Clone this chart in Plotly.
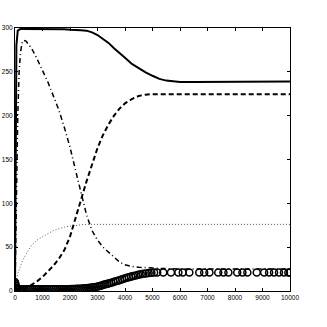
import plotly.graph_objects as go

# Line series time grid
t_lines = [0, 20, 50, 100, 150, 200, 250, 300, 400, 600, 800, 1000, 1200, 1400, 1600, 1800,
           2000, 2200, 2400, 2600, 2800, 3000, 3200, 3400, 3600, 3800, 4000, 4250, 4500,
           4750, 5000, 5250, 5500, 6000, 6500, 7000, 8000, 9000, 10000]

solid = [0, 150, 280, 297, 298.5, 299, 299, 299, 299, 299, 299, 299, 299, 298.5, 298.5, 298.5,
         298, 298, 297.5, 297, 295, 292, 288, 283, 277, 271, 266, 259, 254,
         249.5, 245.5, 242, 240, 238.5, 238.5, 238.5, 239, 239, 239]

dashed = [3, 2.5, 2, 2, 2, 2, 2.5, 3, 4, 7, 11, 16, 22, 29, 37, 47,
          62, 82, 104, 125, 145, 163, 178, 190, 200, 208, 214, 219, 222.5,
          224, 224.5, 224.5, 224.5, 224.5, 224.5, 224.5, 224.5, 224.5, 224.5]

dashdot = [0, 40, 110, 200, 250, 272, 282, 286, 285, 277, 265, 252, 238, 222, 206, 186,
           164, 138, 111, 87, 69, 58, 50, 44, 38, 33, 30, 28, 27,
           26.5, 26, 25.5, 25.5, 25, 25, 25, 25, 25, 25]

dotted = [0, 6, 12, 20, 25, 29, 33, 36, 42, 52, 58, 62, 66, 69, 71, 73,
          74, 75, 75.5, 76, 76, 76, 76, 76, 76, 76, 76, 76, 76,
          76, 76, 76, 76, 76, 76, 76, 76, 76, 76]

# Marker series (solver output points)
t_circ = [0, 10, 25, 50, 80, 120, 170, 230, 290, 350, 420, 490, 560, 630, 700, 770, 840,
          910, 980, 1050, 1120, 1190, 1260, 1330, 1400, 1470, 1540, 1610, 1680, 1750, 1820,
          1890, 1960, 2030, 2100, 2170, 2240, 2310, 2380, 2450, 2520, 2590, 2660, 2730,
          2800, 2870, 2940, 3010, 3080, 3150, 3220, 3290, 3360, 3430, 3500, 3580, 3660,
          3740, 3820, 3900, 3980, 4060, 4140, 4220, 4300, 4390, 4480, 4570, 4660, 4760,
          4860, 4960, 5060, 5170, 5390, 5670, 5940, 6100, 6340, 6700, 6880, 7070, 7390,
          7580, 7760, 8080, 8270, 8450, 8790, 9060, 9240, 9420, 9600, 9780, 9940, 10000]

circ = [10, 8, 6, 4, 3, 2.5, 2, 2, 2, 2, 2, 2, 2, 2, 2, 2, 2,
        2, 2, 2, 2, 2, 2, 2, 2, 2, 2, 2, 2, 2, 2,
        2, 2, 2.2, 2.3, 2.4, 2.5, 2.6, 2.7, 2.8, 3, 3.2, 3.4, 3.6,
        3.9, 4.3, 4.7, 5.2, 5.8, 6.4, 7, 7.6, 8.2, 8.8, 9.4, 10.2, 11,
        11.8, 12.6, 13.4, 14.2, 15, 15.7, 16.4, 17.1, 17.8, 18.5, 19.1, 19.6, 20.1,
        20.5, 20.8, 21, 21, 21, 21, 21, 21, 21, 21, 21, 21, 21,
        21, 21, 21, 21, 21, 21, 21, 21, 21, 21, 21, 21, 21]

x_ticks = [0, 1000, 2000, 3000, 4000, 5000, 6000, 7000, 8000, 9000, 10000]
y_ticks = [0, 50, 100, 150, 200, 250, 300]

fig = go.Figure()
fig.add_trace(go.Scatter(x=t_lines, y=dotted, mode="lines",
                         line=dict(color="#555555", width=1, dash="1px,2px")))
fig.add_trace(go.Scatter(x=t_lines, y=dashdot, mode="lines",
                         line=dict(color="black", width=1.5, dash="5px,3px,1px,3px")))
fig.add_trace(go.Scatter(x=t_lines, y=dashed, mode="lines",
                         line=dict(color="black", width=2, dash="5px,3px")))
fig.add_trace(go.Scatter(x=t_lines, y=solid, mode="lines",
                         line=dict(color="black", width=2)))
fig.add_trace(go.Scatter(x=t_circ, y=circ, mode="markers",
                         marker=dict(symbol="circle-open", size=7, color="black",
                                     line=dict(width=1.5, color="black"))))

axis_common = dict(showgrid=False, zeroline=False, showline=True, linecolor="black",
                   linewidth=1, mirror="ticks", ticks="inside", ticklen=3,
                   tickcolor="black", automargin=False,
                   tickfont=dict(family="Liberation Sans", size=6.5, color="black"))

fig.update_layout(
    width=327, height=327,
    margin=dict(l=15, r=37, t=28, b=36),
    paper_bgcolor="white", plot_bgcolor="white",
    showlegend=False,
    xaxis=dict(range=[0, 10000], tickvals=x_ticks, ticktext=[str(v) for v in x_ticks],
               **axis_common),
    yaxis=dict(range=[0, 300], tickvals=y_ticks, ticktext=[str(v) for v in y_ticks],
               **axis_common),
)

fig.write_html("out.html", config={"displayModeBar": False},
               post_script="document.body.style.margin='0';")
